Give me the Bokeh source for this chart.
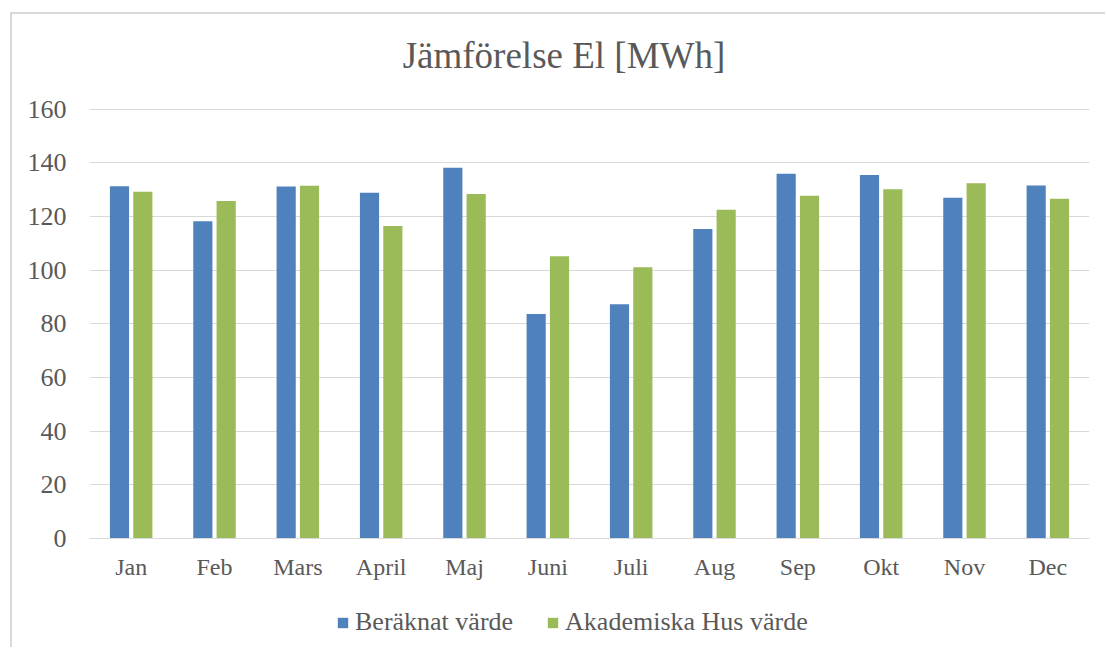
from bokeh.plotting import figure
from bokeh.models import ColumnDataSource, FactorRange, Legend, LegendItem
from bokeh.core.properties import value
from bokeh.layouts import column
from bokeh.transform import dodge
from bokeh.embed import file_html
from bokeh.resources import INLINE

months = ["Jan", "Feb", "Mars", "April", "Maj", "Juni", "Juli", "Aug", "Sep", "Okt", "Nov", "Dec"]
beraknat = [131.3, 118.2, 131.2, 128.9, 138.2, 83.7, 87.3, 115.3, 135.9, 135.5, 127.0, 131.6]
akademiska = [129.2, 125.8, 131.5, 116.5, 128.4, 105.2, 101.1, 122.5, 127.7, 130.2, 132.4, 126.6]
y_ticks = [0, 20, 40, 60, 80, 100, 120, 140, 160]
series_names = ["Beräknat värde", "Akademiska Hus värde"]
title_text = "Jämförelse El [MWh]"

FONT = "Liberation Serif"
TXT = "#595959"
GRID = "#D9D9D9"
BLUE = "#4F81BD"
GREEN = "#9BBB59"


def strip(height):
    f = figure(width=1093, height=height, x_range=(0, 1), y_range=(0, 1),
               output_backend="svg", toolbar_location=None,
               x_axis_location=None, y_axis_location=None,
               min_border_left=0, min_border_right=0, min_border_top=0, min_border_bottom=0)
    f.outline_line_color = None
    f.xgrid.grid_line_color = None
    f.ygrid.grid_line_color = None
    return f


# title strip
top = strip(72)
top.text(x=[0.4745], y=[0.43], text=[title_text], text_font=value(FONT),
         text_font_size="37px", text_color=TXT, text_align="center",
         text_baseline="alphabetic")

# main chart
src = ColumnDataSource(dict(month=months, b=beraknat, a=akademiska))

p = figure(
    width=1093, height=509,
    x_range=FactorRange(*months, range_padding=0),
    y_range=(0, 161),
    output_backend="svg", toolbar_location=None,
    min_border_left=77, min_border_right=16, min_border_top=20, min_border_bottom=57,
)
p.outline_line_color = None
p.background_fill_color = "white"
p.border_fill_color = "white"

r1 = p.vbar(x=dodge("month", -0.14, range=p.x_range), top="b", width=0.23, source=src,
            fill_color=BLUE, line_color=None)
r2 = p.vbar(x=dodge("month", 0.14, range=p.x_range), top="a", width=0.23, source=src,
            fill_color=GREEN, line_color=None)

p.yaxis.ticker = y_ticks
p.yaxis.axis_line_color = None
p.yaxis.major_tick_line_color = None
p.yaxis.minor_tick_line_color = None
p.yaxis.major_label_text_font = FONT
p.yaxis.major_label_text_font_size = "26px"
p.yaxis.major_label_text_color = TXT
p.yaxis.major_label_standoff = 17

p.xaxis.axis_line_color = GRID
p.xaxis.axis_line_width = 1
p.xaxis.major_tick_line_color = None
p.xaxis.minor_tick_line_color = None
p.xaxis.major_label_text_font = FONT
p.xaxis.major_label_text_font_size = "24px"
p.xaxis.major_label_text_color = TXT
p.xaxis.major_label_standoff = 9

p.xgrid.grid_line_color = None
p.ygrid.grid_line_color = GRID
p.ygrid.grid_line_width = 1

# legend strip below the chart (zero-height swatch renderers, nothing drawn in the strip)
leg = strip(52)
swatch = ColumnDataSource(dict(x=[0.5], top=[0]))
lr1 = leg.vbar(x="x", top="top", bottom=0, width=0.001, source=swatch, fill_color=BLUE, line_color=None)
lr2 = leg.vbar(x="x", top="top", bottom=0, width=0.001, source=swatch, fill_color=GREEN, line_color=None)

legend = Legend(
    items=[LegendItem(label=series_names[0], renderers=[lr1]),
           LegendItem(label=series_names[1], renderers=[lr2])],
    orientation="horizontal", location=(247, 10),
    label_text_font=FONT, label_text_font_size="26px", label_text_color=TXT,
    glyph_width=13, glyph_height=13, label_standoff=6, spacing=33,
    border_line_color=None, background_fill_alpha=0, padding=0, margin=0,
)
leg.add_layout(legend, "center")

layout = column(top, p, leg, spacing=0)
layout.styles = {"margin-left": "10px", "margin-top": "12px",
                 "border-left": "2px solid #D9D9D9", "border-top": "2px solid #D9D9D9"}

open("out.html", "w").write(file_html(layout, INLINE))
